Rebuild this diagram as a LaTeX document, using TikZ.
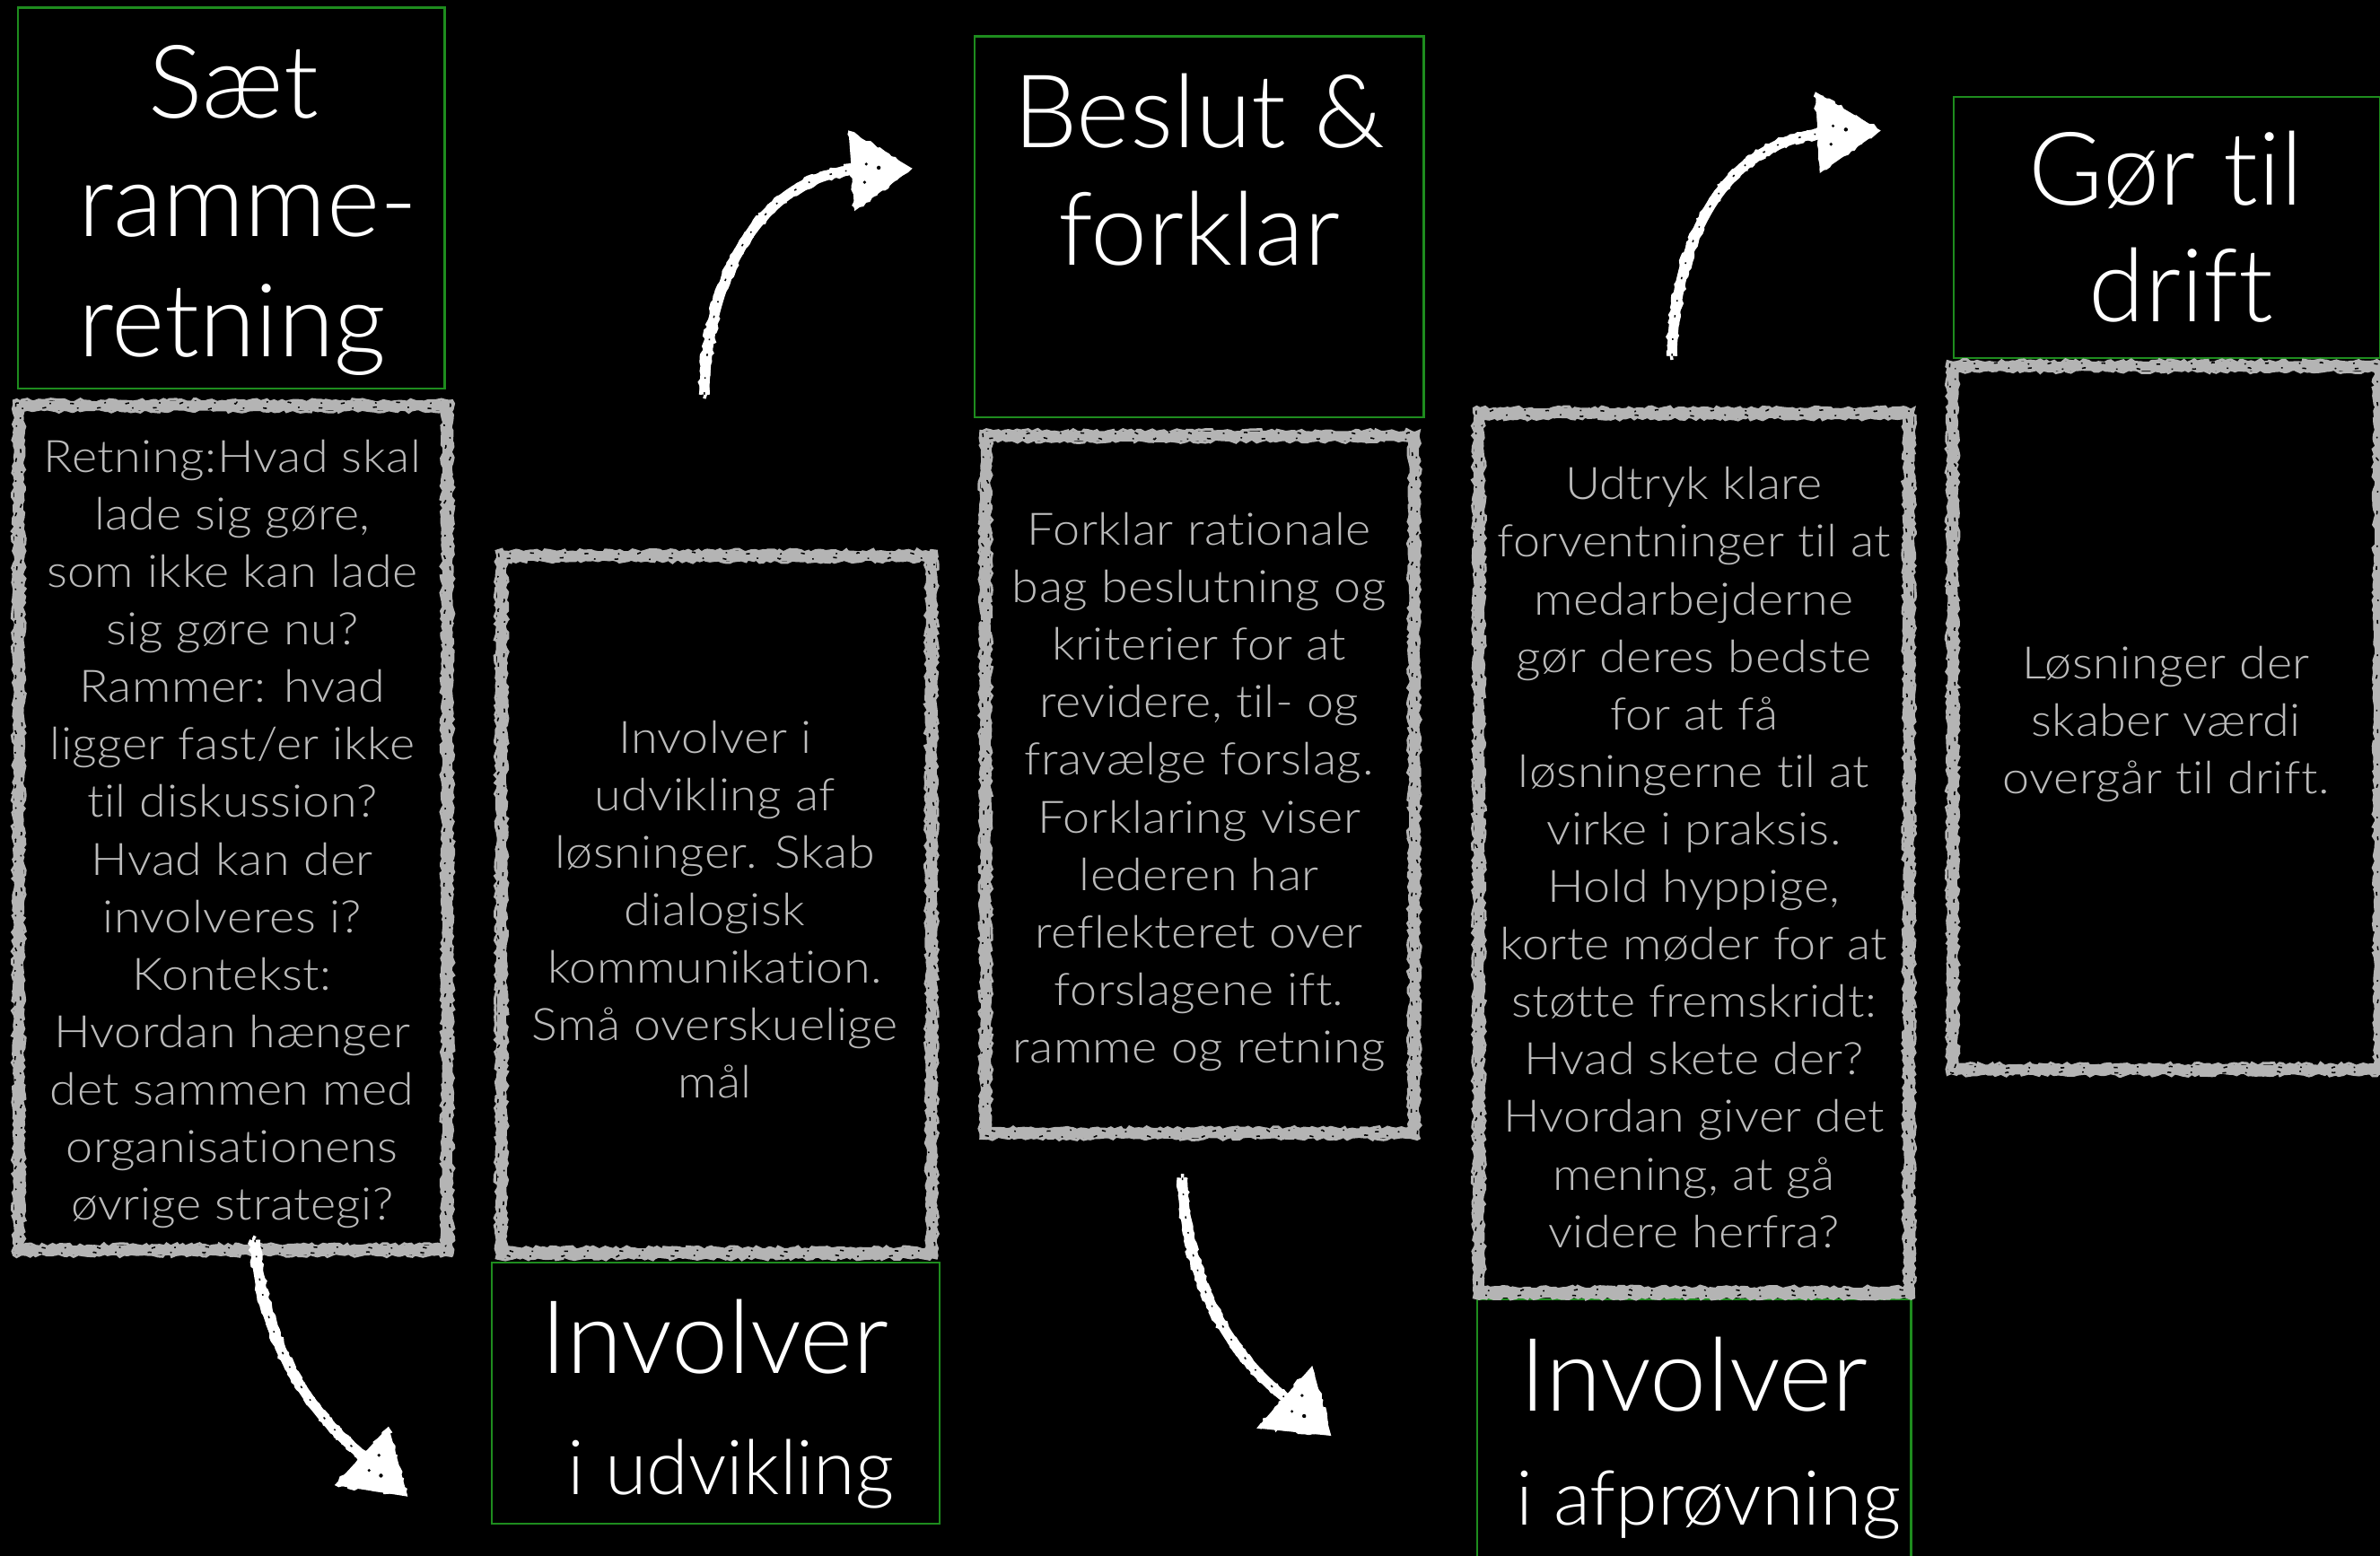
\documentclass[tikz,border=0pt]{standalone}
\usepackage{fontspec}
\IfFontExistsTF{Lato Light}{%
  \setmainfont{Lato Light}[Ligatures=NoCommon]%
  \newfontfamily\bodyfont{Lato Light}[Ligatures=NoCommon, LetterSpace=1, FakeStretch=1.08]}{%
  \setmainfont{Lato}[Ligatures=NoCommon]%
  \newfontfamily\bodyfont{Lato}[Ligatures=NoCommon, LetterSpace=1, FakeStretch=1.08]}
\usetikzlibrary{decorations.pathmorphing,calc}
\definecolor{chalkgray}{RGB}{180,180,180}
\definecolor{boxgreen}{RGB}{30,140,30}
\definecolor{txtgray}{RGB}{188,188,188}
\tikzset{
  greenbox/.style={draw=boxgreen, line width=1.4pt, rectangle, inner sep=0pt},
  chalkholder/.style={rectangle, inner sep=0pt},
  chalkband/.style={draw=chalkgray, line width=6pt},
  chalkedge/.style={draw=chalkgray, line width=1.8pt, decorate,
    decoration={random steps, segment length=2.5pt, amplitude=1.2pt}},
  chalkspeck/.style={draw=black, line width=0.9pt, decorate,
    decoration={random steps, segment length=2pt, amplitude=0.7pt},
    dash pattern=on 2.5pt off 13pt on 1pt off 21pt},
  bodytext/.style={text=txtgray, align=center, inner sep=0pt, anchor=north,
    font=\bodyfont\fontsize{29.5}{37.9}\selectfont},
  titletext/.style={text=white, inner sep=0pt, anchor=base,
    font=\fontsize{67}{78.5}\selectfont},
  subtext/.style={text=white, inner sep=0pt, anchor=base,
    font=\fontsize{50}{60}\selectfont},
  chalkshaft/.style={draw=white, line width=6.5pt},
  chalkrough/.style={draw=white, line width=2pt, decorate,
    decoration={random steps, segment length=2.5pt, amplitude=1.2pt}},
  chalkspeckw/.style={draw=black, line width=0.9pt,
    dash pattern=on 1.5pt off 9pt on 1pt off 14pt},
  headfill/.style={fill=white, decorate,
    decoration={random steps, segment length=3pt, amplitude=1.6pt}},
}
\newcommand\chalkframe[1]{%
  \draw[chalkband] (#1.north west) rectangle (#1.south east);
  \draw[chalkedge] ([shift={(-3.2,-3.2)}]#1.north west) rectangle ([shift={(3.2,3.2)}]#1.south east);
  \draw[chalkedge] ([shift={(3.2,3.2)}]#1.north west) rectangle ([shift={(-3.2,-3.2)}]#1.south east);
  \draw[chalkspeck] ([shift={(-1.8,-1.8)}]#1.north west) rectangle ([shift={(1.8,1.8)}]#1.south east);
  \draw[chalkspeck, dash phase=9pt] ([shift={(1.6,1.6)}]#1.north west) rectangle ([shift={(-1.6,-1.6)}]#1.south east);
}
\newcommand\chalkcurve[4]{%
  \draw[chalkshaft] (#1) .. controls (#2) and (#3) .. (#4);
  \foreach \dx/\dy in {2.6/0,-2.6/0,0/2.6,0/-2.6}{
    \draw[chalkrough] ([shift={(\dx,\dy)}]#1) .. controls ([shift={(\dx,\dy)}]#2) and ([shift={(\dx,\dy)}]#3) .. ([shift={(\dx,\dy)}]#4);
  }
  \draw[chalkspeckw] (#1) .. controls (#2) and (#3) .. (#4);
}
\newcommand\chalkhead[3]{%
  \fill[white] (#1) -- (#2) -- (#3) -- cycle;
  \path[headfill] (#1) -- (#2) -- (#3) -- cycle;
  \fill[black] ($0.45*(#1)+0.3*(#2)+0.25*(#3)$) circle (1.3pt);
  \fill[black] ($0.25*(#1)+0.45*(#2)+0.3*(#3)$) circle (1pt);
  \fill[black] ($0.2*(#1)+0.25*(#2)+0.55*(#3)$) circle (1.1pt);
}
\begin{document}
\begin{tikzpicture}[x=1pt,y=-1pt]
\pgfmathsetseed{7}
\useasboundingbox (0,0) rectangle (1568,1025.2);
\fill[black] (0,0) rectangle (1568,1025.2);

% green title boxes
\node[greenbox, minimum width=281pt, minimum height=251pt] (gA) at (152.5,130.5) {};
\node[greenbox, minimum width=296pt, minimum height=251pt] (gB) at (790,149.5) {};
\node[greenbox, minimum width=281pt, minimum height=172pt] (gC) at (1427.5,150) {};
\node[greenbox, minimum width=295pt, minimum height=172pt] (gD) at (471.5,918) {};
\node[greenbox, minimum width=286pt, minimum height=176pt] (gE) at (1116,944) {};

% chalk framed boxes
\node[chalkholder, minimum width=282pt, minimum height=556pt] (cA) at (153.5,545.5) {};
\node[chalkholder, minimum width=283pt, minimum height=459pt] (cB) at (472,596) {};
\node[chalkholder, minimum width=282pt, minimum height=459pt] (cC) at (790.5,517) {};
\node[chalkholder, minimum width=283pt, minimum height=579pt] (cD) at (1116,562) {};
\node[chalkholder, minimum width=281pt, minimum height=463pt] (cE) at (1427,473) {};
\chalkframe{cA}
\chalkframe{cB}
\chalkframe{cC}
\chalkframe{cD}
\chalkframe{cE}

% titles
\node[titletext] (tA1) at (154,78) {Sæt};
\node[titletext] (tA2) at (163.5,156) {ramme-};
\node[titletext] (tA3) at (153,235) {retning};
\node[titletext] (tB1) at (790,97) {Beslut \&};
\node[titletext] (tB2) at (790,175) {forklar};
\node[titletext] (tC1) at (1427,135) {Gør til};
\node[titletext] (tC2) at (1437,212) {drift};
\node[titletext] (tD1) at (471,905) {Involver};
\node[subtext] (tD2) at (481.5,985) {i udvikling};
\node[titletext] (tE1) at (1116,930) {Involver};
\node[subtext] (tE2) at (1125.5,1005) {i afprøvning};

% body texts
\node[bodytext] (bA) at (153,284) {\rule{0pt}{27pt}Retning:Hvad skal\\lade sig gøre,\\som ikke kan lade\\sig gøre nu?\\Rammer: hvad\\ligger fast/er ikke\\til diskussion?\\Hvad kan der\\involveres i?\\Kontekst:\\Hvordan hænger\\det sammen med\\organisationens\\øvrige strategi?};
\node[bodytext] (bB) at (471,469) {\rule{0pt}{27pt}Involver i\\udvikling af\\løsninger. Skab\\dialogisk\\kommunikation.\\Små overskuelige\\mål};
\node[bodytext] (bC) at (790,332) {\rule{0pt}{27pt}Forklar rationale\\bag beslutning og\\kriterier for at\\revidere, til- og\\fravælge forslag.\\Forklaring viser\\lederen har\\reflekteret over\\forslagene ift.\\ramme og retning};
\node[bodytext] (bD) at (1116,302) {\rule{0pt}{27pt}Udtryk klare\\forventninger til at\\medarbejderne\\gør deres bedste\\for at få\\løsningerne til at\\virke i praksis.\\Hold hyppige,\\korte møder for at\\støtte fremskridt:\\Hvad skete der?\\Hvordan giver det\\mening, at gå\\videre herfra?};
\node[bodytext] (bE) at (1427,420) {\rule{0pt}{27pt}Løsninger der\\skaber værdi\\overgår til drift.};

% chalk arrows
\coordinate (a1s) at (168,817);
\coordinate (a1c) at (172,885);
\coordinate (a1d) at (205,932);
\coordinate (a1e) at (240,960);
\coordinate (a1t) at (268.5,986);
\coordinate (a1l) at (220.5,978.5);
\coordinate (a1r) at (256,940);
\chalkcurve{a1s}{a1c}{a1d}{a1e}
\chalkhead{a1t}{a1l}{a1r}

\coordinate (a2s) at (464,260);
\coordinate (a2c) at (466,175);
\coordinate (a2d) at (505,118);
\coordinate (a2e) at (562,112);
\coordinate (a2t) at (601,111);
\coordinate (a2l) at (559,86);
\coordinate (a2r) at (563,139);
\chalkcurve{a2s}{a2c}{a2d}{a2e}
\chalkhead{a2t}{a2l}{a2r}

\coordinate (a3s) at (779,776);
\coordinate (a3c) at (781,845);
\coordinate (a3d) at (810,892);
\coordinate (a3e) at (848,922);
\coordinate (a3t) at (877,946);
\coordinate (a3l) at (828,941);
\coordinate (a3r) at (864.5,900);
\chalkcurve{a3s}{a3c}{a3d}{a3e}
\chalkhead{a3t}{a3l}{a3r}

\coordinate (a4s) at (1101.5,234.5);
\coordinate (a4c) at (1104,150);
\coordinate (a4d) at (1140,95);
\coordinate (a4e) at (1199,88);
\coordinate (a4t) at (1239,86);
\coordinate (a4l) at (1196,60.5);
\coordinate (a4r) at (1199,114);
\chalkcurve{a4s}{a4c}{a4d}{a4e}
\chalkhead{a4t}{a4l}{a4r}
\end{tikzpicture}
\end{document}
